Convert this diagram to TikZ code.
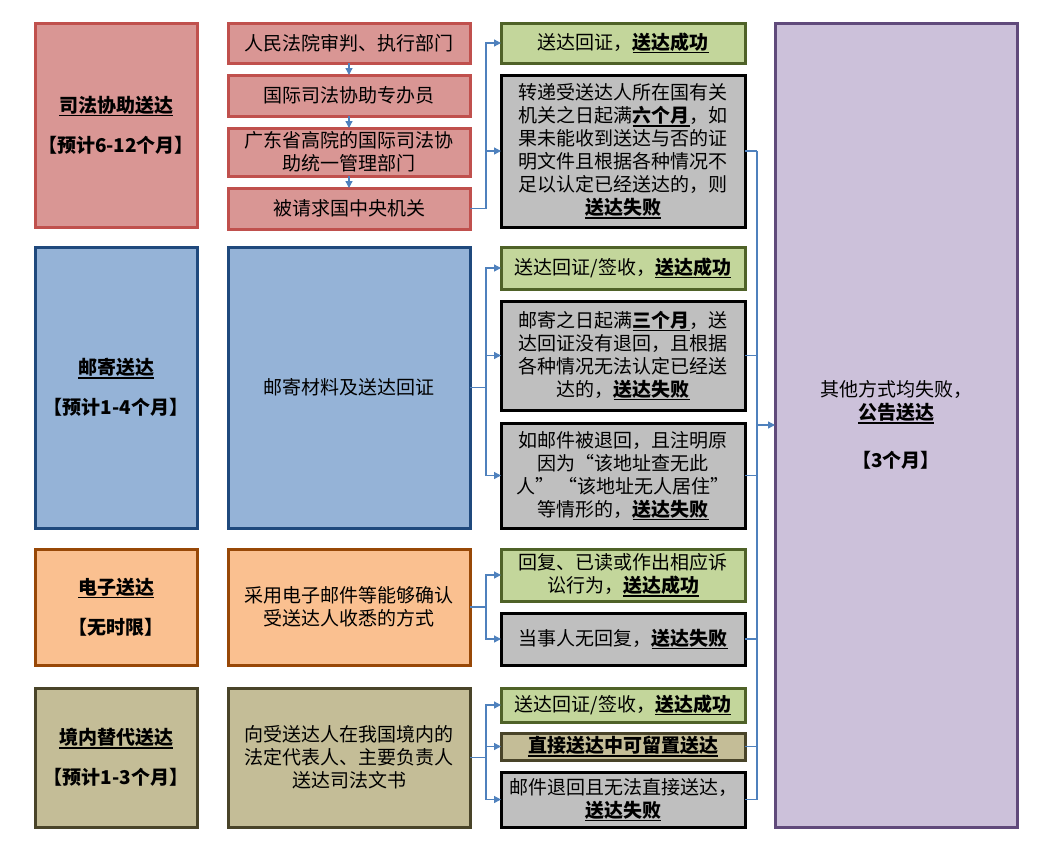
\documentclass[tikz,border=0pt]{standalone}
\usepackage{fontspec}
\setmainfont{Noto Sans CJK SC}
\usepackage{xcolor}
\usetikzlibrary{positioning,arrows.meta,calc}
\definecolor{redfill}{HTML}{D99694}
\definecolor{redline}{HTML}{C0504D}
\definecolor{bluefill}{HTML}{95B3D7}
\definecolor{blueline}{HTML}{1F497D}
\definecolor{orangefill}{HTML}{FAC090}
\definecolor{orangeline}{HTML}{984807}
\definecolor{tanfill}{HTML}{C4BD97}
\definecolor{tanline}{HTML}{494429}
\definecolor{okfill}{HTML}{C3D69B}
\definecolor{okline}{HTML}{4F6228}
\definecolor{failfill}{HTML}{BFBFBF}
\definecolor{pubfill}{HTML}{CCC1DA}
\definecolor{publine}{HTML}{604A7B}
\definecolor{link}{HTML}{4F81BD}
\newcommand{\result}[1]{{\bfseries\setbox0\hbox{#1}\rlap{\rule[-4pt]{\wd0}{1.3pt}}\box0}}

\begin{document}
\begin{tikzpicture}[x=1pt, y=1pt,
  node distance=12pt and 31pt,
  box/.style={draw, line width=3pt, outer sep=0pt, inner sep=2pt, align=center, font=\fontsize{19}{23}\selectfont},
  head/.style={box, minimum width=162pt},
  mid/.style={box, minimum width=242pt},
  ok/.style={box, fill=okfill, draw=okline, minimum width=244pt},
  fail/.style={box, fill=failfill, draw=black, minimum width=244pt},
  ar/.style={draw=link, line width=1.3pt, -{Triangle[length=7pt,width=7pt]}},
  ln/.style={draw=link, line width=1.3pt}]

  \useasboundingbox (0,0) rectangle (1041,-847);

  % methods
  \node[head, fill=redfill, draw=redline, minimum height=204pt] (L1) at (116,-125) {\result{司法协助送达}\\[17pt]\textbf{【预计6-12个月】}};
  \node[head, fill=bluefill, draw=blueline, minimum height=281pt] (L2) at (116,-387.5) {\result{邮寄送达}\\[17pt]\textbf{【预计1-4个月】}};
  \node[head, fill=orangefill, draw=orangeline, minimum height=116pt] (L3) at (116,-607) {\result{电子送达}\\[17pt]\textbf{【无时限】}};
  \node[head, fill=tanfill, draw=tanline, minimum height=139pt] (L4) at (116,-757.5) {\result{境内替代送达}\\[17pt]\textbf{【预计1-3个月】}};

  % steps
  \node[mid, fill=redfill, draw=redline, minimum height=40pt] (s1) at (349,-43) {人民法院审判、执行部门};
  \node[mid, fill=redfill, draw=redline, minimum height=41pt, below=of s1] (s2) {国际司法协助专办员};
  \node[mid, fill=redfill, draw=redline, minimum height=48pt, below=of s2] (s3) {广东省高院的国际司法协\\助统一管理部门};
  \node[mid, fill=redfill, draw=redline, minimum height=41pt, below=of s3] (s4) {被请求国中央机关};
  \node[mid, fill=bluefill, draw=blueline, minimum height=281pt, right=of L2] (M2) {邮寄材料及送达回证};
  \node[mid, fill=orangefill, draw=orangeline, minimum height=116pt, right=of L3] (M3) {采用电子邮件等能够确认\\受送达人收悉的方式};
  \node[mid, fill=tanfill, draw=tanline, minimum height=139pt, right=of L4] (M4) {向受送达人在我国境内的\\法定代表人、主要负责人\\送达司法文书};

  % outcomes
  \node[ok, minimum height=40pt, right=of s1] (r1) {送达回证，\result{送达成功}};
  \node[fail, minimum height=152pt, below=12pt of r1] (r2) {转递受送达人所在国有关\\机关之日起满\result{六个月}，如\\果未能收到送达与否的证\\明文件且根据各种情况不\\足以认定已经送达的，则\\\result{送达失败}};
  \node[ok, minimum height=42pt, below=20pt of r2] (r3) {送达回证/签收，\result{送达成功}};
  \node[fail, minimum height=109pt, below=12pt of r3] (r4) {邮寄之日起满\result{三个月}，送\\达回证没有退回，且根据\\各种情况无法认定已经送\\达的，\result{送达失败}};
  \node[fail, minimum height=105pt, below=13pt of r4] (r5) {如邮件被退回，且注明原\\因为“该地址查无此\\人”\ “该地址无人居住”\\等情形的，\result{送达失败}};
  \node[ok, minimum height=52pt, below=21pt of r5] (r6) {回复、已读或作出相应诉\\讼行为，\result{送达成功}};
  \node[fail, minimum height=52pt, below=12pt of r6] (r7) {当事人无回复，\result{送达失败}};
  \node[ok, minimum height=34pt, below=23pt of r7] (r8) {送达回证/签收，\result{送达成功}};
  \node[box, fill=tanfill, draw=tanline, minimum width=244pt, minimum height=27pt, inner sep=1pt, below=11pt of r8] (r9) {\result{直接送达中可留置送达}};
  \node[fail, minimum height=55pt, below=12pt of r9] (r10) {邮件退回且无法直接送达，\\\result{送达失败}};

  \node[box, fill=pubfill, draw=publine, minimum width=242pt, minimum height=804pt] (pub) at (896,-425) {其他方式均失败，\\\result{公告送达}\\[25pt]\textbf{【3个月】}};

  % judicial chain
  \draw[ar] (s1) -- (s2);
  \draw[ar] (s2) -- (s3);
  \draw[ar] (s3) -- (s4);

  % branches
  \draw[ar] (s4.east) -- ++(16,0) |- (r1.west);
  \draw[ar] (s4.east) -- ++(16,0) |- (r2.west);
  \draw[ar] (M2.east) -- ++(16,0) |- (r3.west);
  \draw[ar] (M2.east) -- ++(16,0) |- (r4.west);
  \draw[ar] (M2.east) -- ++(16,0) |- (r5.west);
  \draw[ar] (M3.east) -- ++(16,0) |- (r6.west);
  \draw[ar] (M3.east) -- ++(16,0) |- (r7.west);
  \draw[ar] (M4.east) -- ++(16,0) |- (r8.west);
  \draw[ar] (M4.east) -- ++(16,0) |- (r9.west);
  \draw[ar] (M4.east) -- ++(16,0) |- (r10.west);

  % failures to public notice
  \draw[ln] (r2.east) -- ++(12,0) coordinate (bt);
  \draw[ln] (r10.east) -- ++(12,0) coordinate (bb);
  \draw[ln] (bt) -- (bb);
  \foreach \f in {r4,r5,r7,r9}
    \draw[ln] (\f.east) -- (\f.east -| bt);
  \draw[ar] (bt |- pub.west) -- (pub.west);
\end{tikzpicture}
\end{document}
